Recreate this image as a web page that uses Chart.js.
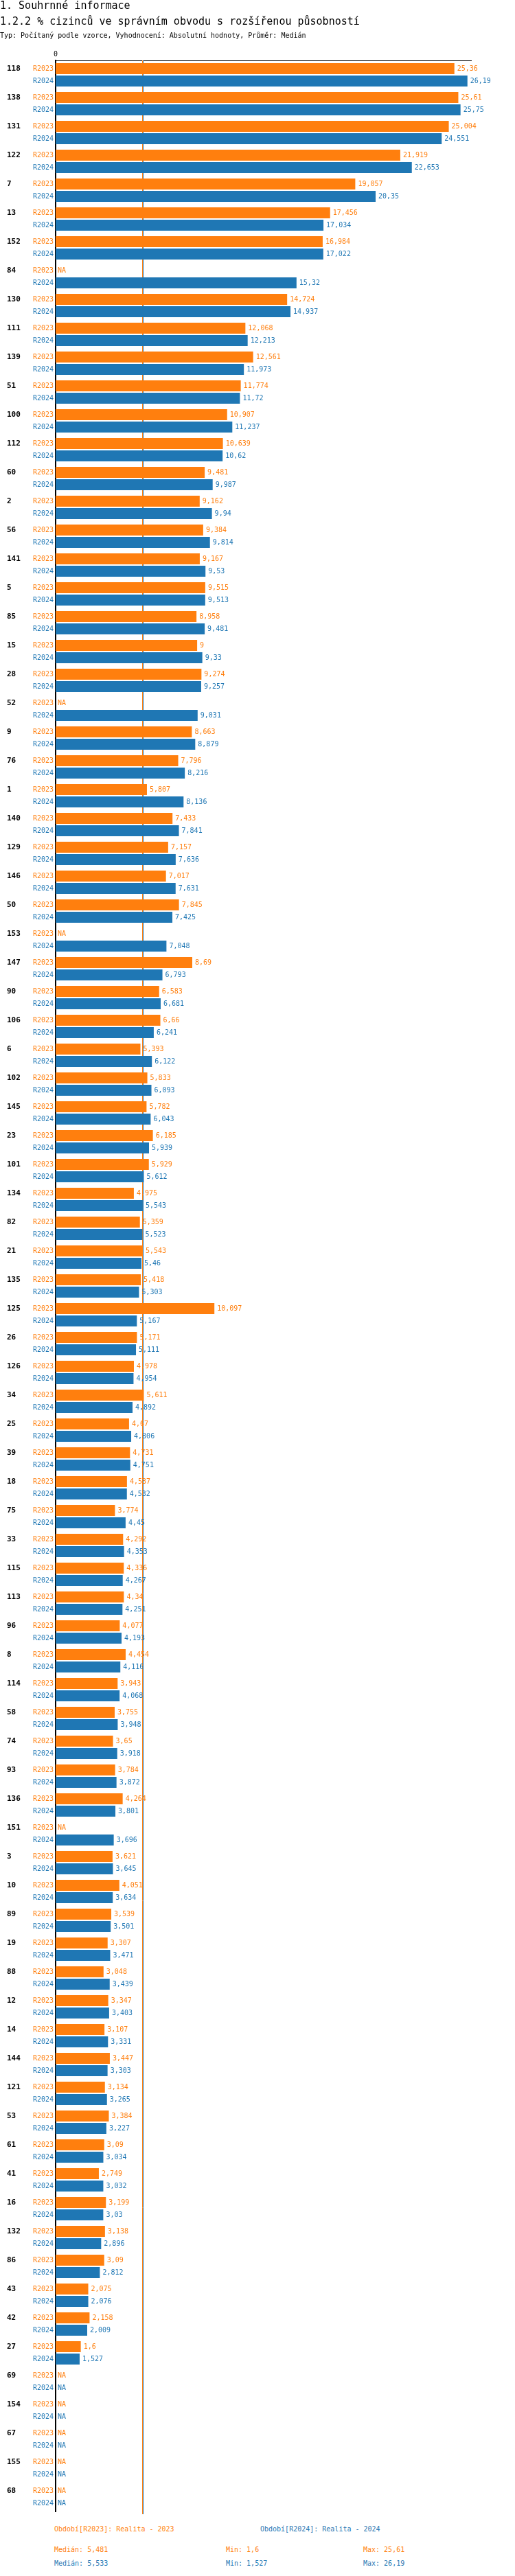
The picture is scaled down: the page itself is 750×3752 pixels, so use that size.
<!DOCTYPE html>
<html>
<head>
<meta charset="utf-8">
<script src="https://cdn.jsdelivr.net/npm/chart.js@4"></script>
<style>
  body { margin: 0; background: #fff; width: 750px; height: 3752px; position: relative; font-family: "DejaVu Sans Mono", monospace; overflow: hidden; }
  .t { position: absolute; left: 0; white-space: pre; }
  .h1 { font-size: 15px; line-height: 15px; color: #000; }
  .small { font-size: 10px; line-height: 10px; }
  #wrap { position: absolute; left: 0; top: 0; width: 750px; height: 3670px; }
</style>
</head>
<body>
<div id="wrap"><canvas id="chart"></canvas></div>
<div class="t h1" style="top:1px">1. Souhrnné informace</div>
<div class="t h1" style="top:24px">1.2.2 % cizinců ve správním obvodu s rozšířenou působností</div>
<div class="t small" style="top:47px">Typ: Počítaný podle vzorce, Vyhodnocení: Absolutní hodnoty, Průměr: Medián</div>
<div id="legend"></div>
<script>
//DATA
var categories = ['118','138','131','122','7','13','152','84','130','111',
  '139','51','100','112','60','2','56','141','5','85',
  '15','28','52','9','76','1','140','129','146','50',
  '153','147','90','106','6','102','145','23','101','134',
  '82','21','135','125','26','126','34','25','39','18',
  '75','33','115','113','96','8','114','58','74','93',
  '136','151','3','10','89','19','88','12','14','144',
  '121','53','61','41','16','132','86','43','42','27',
  '69','154','67','155','68'];

var r2023 = [25.36, 25.61, 25.004, 21.919, 19.057, 17.456, 16.984, null, 14.724, 12.068,
  12.561, 11.774, 10.907, 10.639, 9.481, 9.162, 9.384, 9.167, 9.515, 8.958,
  9, 9.274, null, 8.663, 7.796, 5.807, 7.433, 7.157, 7.017, 7.845,
  null, 8.69, 6.583, 6.66, 5.393, 5.833, 5.782, 6.185, 5.929, 4.975,
  5.359, 5.543, 5.418, 10.097, 5.171, 4.978, 5.611, 4.67, 4.731, 4.537,
  3.774, 4.292, 4.336, 4.34, 4.077, 4.454, 3.943, 3.755, 3.65, 3.784,
  4.264, null, 3.621, 4.051, 3.539, 3.307, 3.048, 3.347, 3.107, 3.447,
  3.134, 3.384, 3.09, 2.749, 3.199, 3.138, 3.09, 2.075, 2.158, 1.6,
  null, null, null, null, null];

var r2024 = [26.19, 25.75, 24.551, 22.653, 20.35, 17.034, 17.022, 15.32, 14.937, 12.213,
  11.973, 11.72, 11.237, 10.62, 9.987, 9.94, 9.814, 9.53, 9.513, 9.481,
  9.33, 9.257, 9.031, 8.879, 8.216, 8.136, 7.841, 7.636, 7.631, 7.425,
  7.048, 6.793, 6.681, 6.241, 6.122, 6.093, 6.043, 5.939, 5.612, 5.543,
  5.523, 5.46, 5.303, 5.167, 5.111, 4.954, 4.892, 4.806, 4.751, 4.532,
  4.45, 4.353, 4.267, 4.251, 4.193, 4.116, 4.068, 3.948, 3.918, 3.872,
  3.801, 3.696, 3.645, 3.634, 3.501, 3.471, 3.439, 3.403, 3.331, 3.303,
  3.265, 3.227, 3.034, 3.032, 3.03, 2.896, 2.812, 2.076, 2.009, 1.527,
  null, null, null, null, null];

var seriesNames = ['R2023', 'R2024'];
var seriesTitles = ['Realita - 2023', 'Realita - 2024'];
var seriesColors = ['#ff7f0e', '#1f77b4'];
var medians = [5.481, 5.533];
var mins = [1.6, 1.527];
var maxs = [25.61, 26.19];
var xTicks = [0];

function fmt(v) {
    return String(v).replace('.', ',');
}

var MONO = '"DejaVu Sans Mono", monospace';

//median lines behind bars
var medianPlugin = {
    id: 'medianLines',
    beforeDatasetsDraw: function(chart) {
        var ctx = chart.ctx, area = chart.chartArea, xs = chart.scales.x;
        ctx.save();
        for (var i = 0; i < medians.length; i++) {
            var px = Math.round(xs.getPixelForValue(medians[i])) + 0.5;
            ctx.strokeStyle = seriesColors[i];
            ctx.lineWidth = 1;
            ctx.beginPath();
            ctx.moveTo(px, area.top);
            ctx.lineTo(px, area.bottom + 4);
            ctx.stroke();
        }
        ctx.restore();
    }
};

//series names left of axis + values right of bars
var labelPlugin = {
    id: 'barLabels',
    afterDatasetsDraw: function(chart) {
        var ctx = chart.ctx, area = chart.chartArea;
        ctx.save();
        ctx.font = '10px ' + MONO;
        ctx.textBaseline = 'middle';
        chart.data.datasets.forEach(function(ds, di) {
            var meta = chart.getDatasetMeta(di);
            ctx.fillStyle = seriesColors[di];
            meta.data.forEach(function(bar, i) {
                var y = bar.y;
                ctx.textAlign = 'right';
                ctx.fillText(seriesNames[di], area.left - 3, y);
                ctx.textAlign = 'left';
                var v = ds.data[i];
                if (v === null) ctx.fillText('NA', area.left + 3, y);
                else ctx.fillText(fmt(v), bar.x + 4, y);
            });
        });
        ctx.restore();
    }
};

var ctx = document.getElementById('chart').getContext('2d');
var chart = new Chart(ctx, {
    type: 'bar',
    data: {
        labels: categories,
        datasets: [
            { label: seriesNames[0], data: r2023, backgroundColor: seriesColors[0] },
            { label: seriesNames[1], data: r2024, backgroundColor: seriesColors[1] }
        ]
    },
    options: {
        indexAxis: 'y',
        responsive: true,
        maintainAspectRatio: false,
        animation: false,
        categoryPercentage: 36 / 42,
        barPercentage: 16 / 18,
        layout: { padding: { left: 10, top: 70, right: 64, bottom: 12 } },
        plugins: { legend: { display: false }, tooltip: { enabled: false } },
        scales: {
            x: {
                position: 'top',
                min: 0,
                max: 26.42,
                afterBuildTicks: function(s) { s.ticks = xTicks.map(function(v) { return { value: v }; }); },
                afterFit: function(s) { s.height = 18; },
                grid: { display: false, drawTicks: false },
                border: { display: true, color: '#000', width: 1 },
                ticks: { color: '#000', font: { family: MONO, size: 10 }, padding: 3, maxRotation: 0 }
            },
            y: {
                afterFit: function(s) { s.width = 71; },
                grid: { display: false, drawTicks: false },
                border: { display: true, color: '#000', width: 2 },
                ticks: {
                    color: '#000',
                    crossAlign: 'far',
                    labelOffset: -9,
                    padding: 0,
                    autoSkip: false,
                    font: { family: MONO, size: 11, weight: 'bold' }
                }
            }
        }
    },
    plugins: [medianPlugin, labelPlugin]
});

//legend + stats as text below the chart
var legendBox = document.getElementById('legend');
var legendX = [79, 379];
var statX = [79, 329, 529];
var legendY = 3679;
var statY = [3709, 3729];
var html = '';
for (var i = 0; i < seriesNames.length; i++) {
    var c = seriesColors[i];
    html += '<div class="t small" style="top:' + legendY + 'px;left:' + legendX[i] + 'px;color:' + c + '">Období[' + seriesNames[i] + ']: ' + seriesTitles[i] + '</div>';
    html += '<div class="t small" style="top:' + statY[i] + 'px;left:' + statX[0] + 'px;color:' + c + '">Medián: ' + fmt(medians[i]) + '</div>';
    html += '<div class="t small" style="top:' + statY[i] + 'px;left:' + statX[1] + 'px;color:' + c + '">Min: ' + fmt(mins[i]) + '</div>';
    html += '<div class="t small" style="top:' + statY[i] + 'px;left:' + statX[2] + 'px;color:' + c + '">Max: ' + fmt(maxs[i]) + '</div>';
}
legendBox.innerHTML = html;
</script>
</body>
</html>
